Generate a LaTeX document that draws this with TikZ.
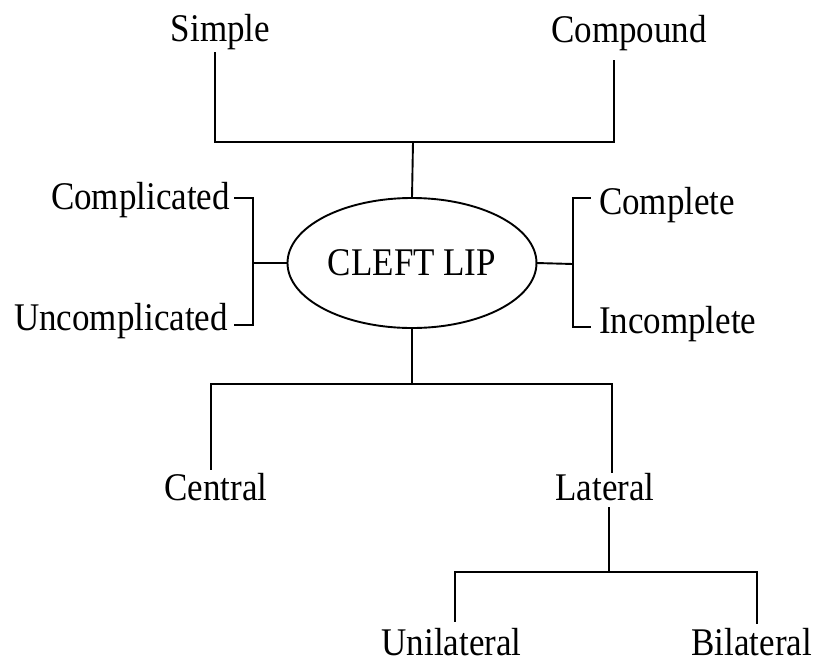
\documentclass[tikz,border=0pt]{standalone}
\usepackage{fontspec}
\setmainfont{Liberation Serif}
\usepackage{graphicx}
\usetikzlibrary{shapes.geometric}
\newcommand\mytx[1]{\scalebox{1}[1.12]{#1}}
\tikzset{
  lbl/.style={inner sep=0pt, outer sep=0pt, font=\fontsize{35}{40}\selectfont},
  conn/.style={line width=1.9pt, line cap=rect, line join=miter},
  oval/.style={draw, ellipse, line width=1.9pt, minimum width=249pt, minimum height=130pt, inner sep=0pt, outer sep=0pt}
}
\begin{document}
\begin{tikzpicture}[x=1pt, y=-1pt]
\useasboundingbox[fill=white] (0,0) rectangle (817,665);

% nodes
\node[lbl, anchor=base] (simple) at (220.5,41) {\mytx{Simple}};
\node[lbl, anchor=base] (compound) at (629,42) {\mytx{Compound}};
\node[oval, lbl] (cleft) at (412,263) {\mytx{CLEFT LIP}};
\node[lbl, anchor=base east] (complicated) at (230,209) {\mytx{Complicated}};
\node[lbl, anchor=base east] (uncomplicated) at (228,330) {\mytx{Uncomplicated}};
\node[lbl, anchor=base west] (complete) at (599,214) {\mytx{Complete}};
\node[lbl, anchor=base west] (incomplete) at (599,333) {\mytx{Incomplete}};
\node[lbl, anchor=base] (central) at (216,500) {\mytx{Central}};
\node[lbl, anchor=base] (lateral) at (605,500) {\mytx{Lateral}};
\node[lbl, anchor=base] (unilateral) at (451.5,655) {\mytx{Unilateral}};
\node[lbl, anchor=base east] (bilateral) at (812,655) {\mytx{Bilateral}};

% junctions
\coordinate (topj) at (413,142);
\coordinate (lj) at (253,263);
\coordinate (rj) at (573,264);
\coordinate (botj) at (412,384);
\coordinate (latj) at (609,572);

% connectors
\draw[conn] (cleft.north) -- (topj);
\draw[conn] ([shift={(-5.5,4)}]simple.south) |- (topj) -| ([shift={(-15,11)}]compound.south);

\draw[conn] (cleft.west) -- (lj);
\draw[conn] ([shift={(5,-2)}]complicated.east) -| (lj) |- ([shift={(7,4)}]uncomplicated.east);

\draw[conn] (cleft.east) -- (rj);
\draw[conn] ([shift={(-9,-7)}]complete.west) -| (rj) |- ([shift={(-9,3)}]incomplete.west);

\draw[conn] (cleft.south) -- (botj);
\draw[conn] ([shift={(-5,-4)}]central.north) |- (botj) -| ([shift={(7,-1)}]lateral.north);

\draw[conn] ([shift={(4,8)}]lateral.south) -- (latj);
\draw[conn] ([shift={(3.5,-7)}]unilateral.north) |- (latj) -| ([shift={(5,-5)}]bilateral.north);
\end{tikzpicture}
\end{document}
